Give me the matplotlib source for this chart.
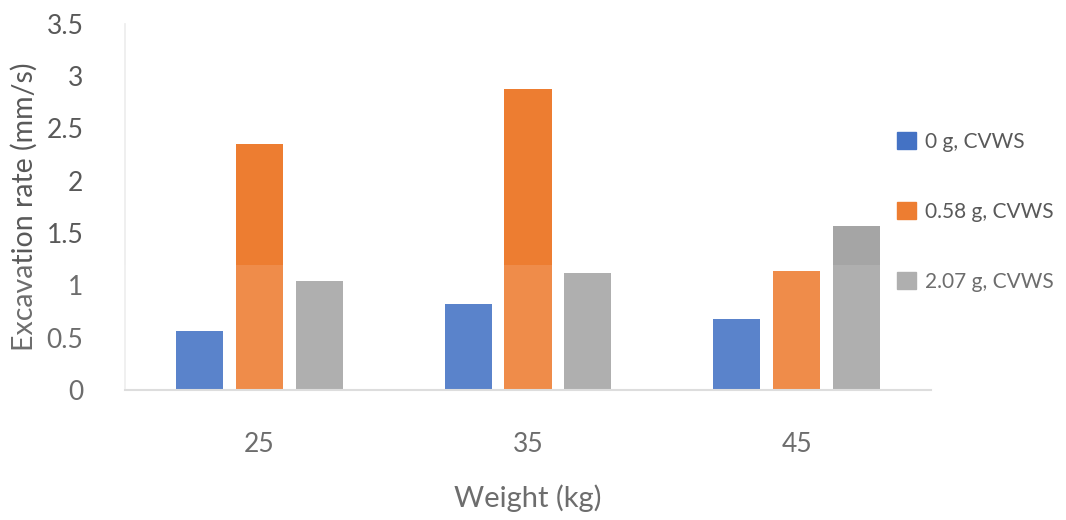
import matplotlib
matplotlib.use("Agg")
import matplotlib.pyplot as plt
import matplotlib.patches as mpatches
import numpy as np

# excavation rate per weight, for each CVWS amount
weights = ["25", "35", "45"]
series_names = ["0 g, CVWS", "0.58 g, CVWS", "2.07 g, CVWS"]
rate_0g = [0.56, 0.82, 0.68]
rate_058g = [2.35, 2.87, 1.14]
rate_207g = [1.04, 1.12, 1.57]
colours = ["#4472C4", "#ED7D31", "#A5A5A5"]

plt.rcParams["font.family"] = ["Lato", "DejaVu Sans"]
text_col = "#595959"

fig = plt.figure(figsize=(10.66, 5.2), dpi=100)
ax = fig.add_axes([125 / 1066, 0.25, (931 - 125) / 1066, 0.7048])

x = np.arange(len(weights))
width = 0.175
step = 0.223
for i, (vals, name, col) in enumerate(zip([rate_0g, rate_058g, rate_207g], series_names, colours)):
    ax.bar(x + (i - 1) * step, vals, width, color=col, label=name, zorder=2)

ax.set_xlim(-0.5, 2.5)
ax.set_ylim(0, 3.5)
ax.set_yticks(np.arange(0, 3.51, 0.5))
ax.set_yticklabels(["0", "0.5", "1", "1.5", "2", "2.5", "3", "3.5"])
ax.set_xticks(x)
ax.set_xticklabels(weights)
ax.tick_params(axis="y", length=0, pad=30, labelsize=19, labelcolor=text_col)
ax.tick_params(axis="x", length=0, pad=30, labelsize=19, labelcolor=text_col)

for s in ["top", "right"]:
    ax.spines[s].set_visible(False)
ax.spines["bottom"].set_color("#d9d9d9")
ax.spines["bottom"].set_linewidth(1.5)
ax.spines["left"].set_color("#ececec")
ax.spines["left"].set_linewidth(1.2)

ax.set_ylabel("Excavation rate (mm/s)", fontsize=20.5, color=text_col, labelpad=6)
ax.set_xlabel("Weight (kg)", fontsize=21, color=text_col, labelpad=20)

handles = [mpatches.Patch(color=c) for c in colours]
fig.legend(handles, series_names, loc="center left", bbox_to_anchor=(878 / 1066, 1 - 212 / 520),
           frameon=False, fontsize=15, handlelength=0.9, handleheight=0.9,
           handletextpad=0.45, labelspacing=2.4, labelcolor=text_col)

# faint white haze over the lower part of the scan
fig.patches.append(mpatches.Rectangle((0, 0), 1, 1 - 265 / 520, transform=fig.transFigure,
                                      facecolor="white", alpha=0.12, edgecolor="none", zorder=10))

fig.savefig("out.png", dpi=100)
